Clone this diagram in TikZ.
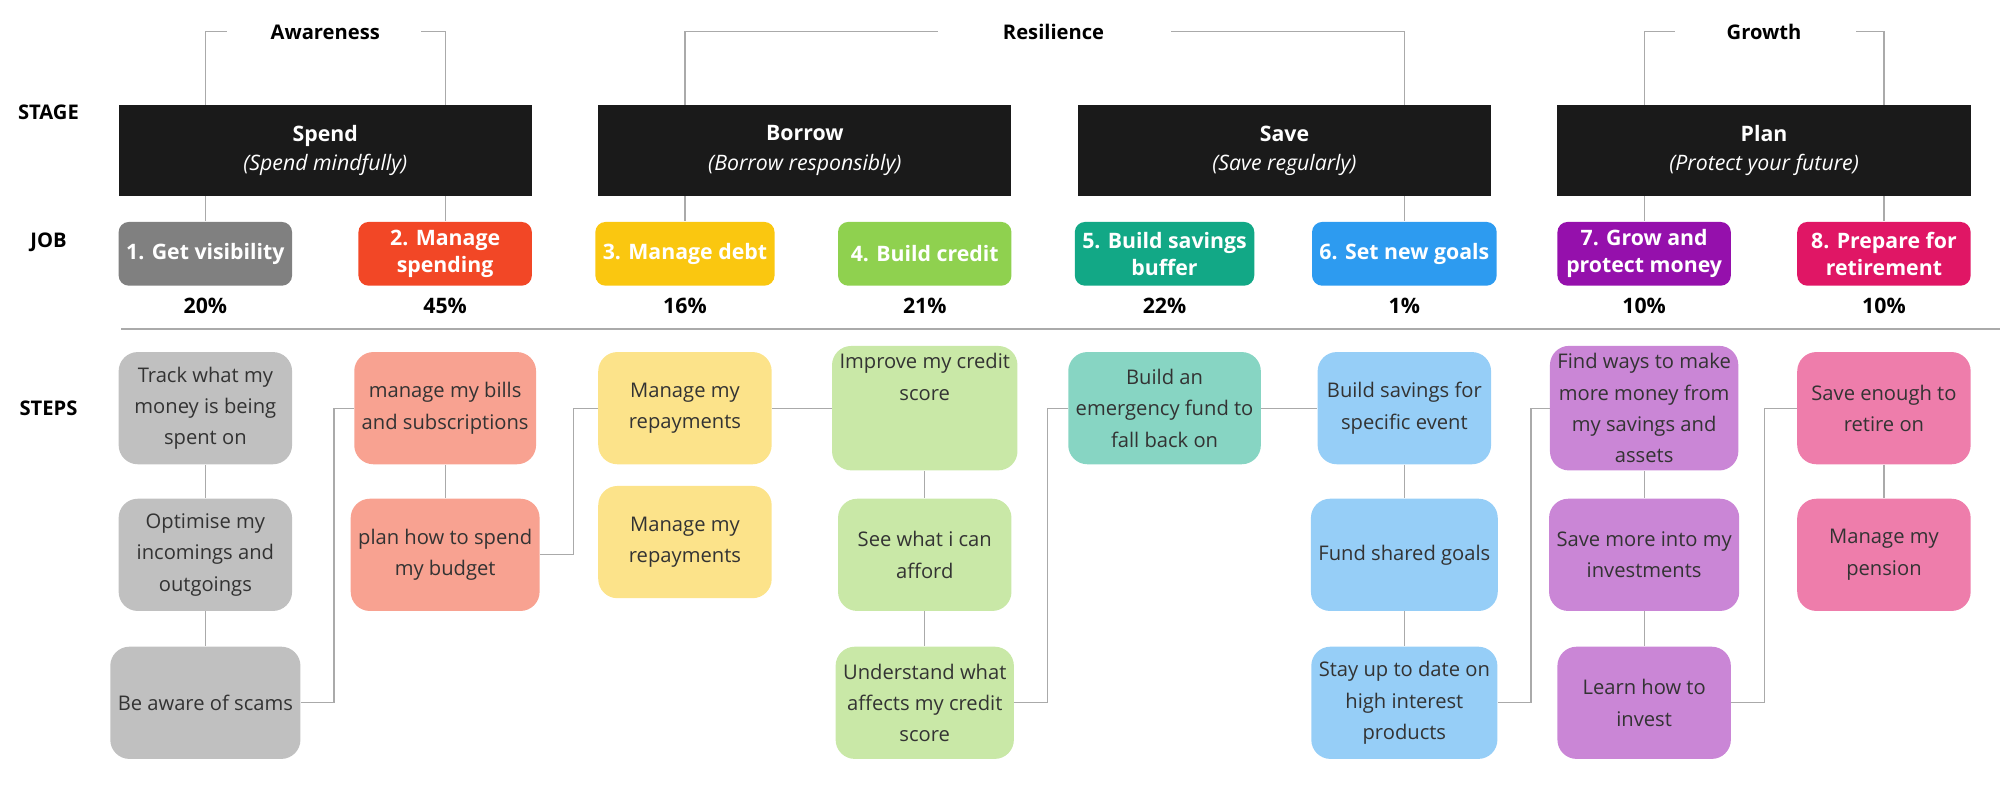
\documentclass[tikz,border=0pt]{standalone}
\usepackage{fontspec}
\setmainfont{Open Sans}
\usetikzlibrary{positioning}

\definecolor{stagebg}{HTML}{1A1A1A}
\definecolor{linegray}{HTML}{AAAAAA}
\definecolor{jgray}{HTML}{808080}\definecolor{sgray}{HTML}{C0C0C0}
\definecolor{jred}{HTML}{F24726}\definecolor{sred}{HTML}{F8A291}
\definecolor{jyel}{HTML}{FAC710}\definecolor{syel}{HTML}{FCE38A}
\definecolor{jgrn}{HTML}{8FD14F}\definecolor{sgrn}{HTML}{C9E8A7}
\definecolor{jteal}{HTML}{12A886}\definecolor{steal}{HTML}{87D5C3}
\definecolor{jblue}{HTML}{2D9BF0}\definecolor{sblue}{HTML}{96CEF7}
\definecolor{jpur}{HTML}{9510AC}\definecolor{spur}{HTML}{CA86D6}
\definecolor{jpink}{HTML}{E01665}\definecolor{spink}{HTML}{EE7DAB}

\tikzset{
  stage/.style={fill=stagebg, text=white, minimum width=6.48cm, minimum height=1.42cm, align=center, font=\fontsize{9.5}{13}\selectfont},
  job/.style={fill=#1, rounded corners=0.16cm, text=white, minimum width=2.72cm, minimum height=1cm, align=center, font=\bfseries\fontsize{9.5}{12}\selectfont},
  step/.style={fill=#1, rounded corners=0.3cm, minimum width=2.72cm, minimum height=1.76cm, align=center, text=black!80, font=\fontsize{9}{14}\selectfont},
  rowlbl/.style={font=\bfseries\fontsize{9}{11}\selectfont},
  pct/.style={font=\bfseries\fontsize{9.5}{11}\selectfont},
  conn/.style={draw=linegray, line width=0.5pt}
}

\begin{document}
\begin{tikzpicture}[x=0.02cm, y=-0.02cm]
\useasboundingbox (0,0) rectangle (1568,618);

% Row labels
\node[rowlbl] (lstage) at (38,88) {STAGE};
\node[rowlbl] (ljob) at (38,190) {JOB};
\node[rowlbl] (lsteps) at (38,320) {STEPS};

% Stages
\node[stage] (sp) at (255,118) {\textbf{Spend}\\\textit{(Spend mindfully)}};
\node[stage] (bo) at (631,118) {\textbf{Borrow}\\\textit{(Borrow responsibly)}};
\node[stage] (sa) at (1007,118) {\textbf{Save}\\\textit{(Save regularly)}};
\node[stage] (pl) at (1383,118) {\textbf{Plan}\\\textit{(Protect your future)}};

% Groups
\node[rowlbl] (gaw) at (255,25) {Awareness};
\node[rowlbl] (gre) at (826,25) {Resilience};
\node[rowlbl] (ggr) at (1383,25) {Growth};
\coordinate (aw1) at (178,25); \coordinate (aw2) at (330,25);
\coordinate (re1) at (735,25); \coordinate (re2) at (918,25);
\coordinate (gr1) at (1313,25); \coordinate (gr2) at (1455,25);

% Jobs
\node[job=jgray] (j1) at (161,199) {1. Get visibility};
\node[job=jred] (j2) at (349,199) {2. Manage\\spending};
\node[job=jyel] (j3) at (537,199) {3. Manage debt};
\node[job=jgrn] (j4) at (725,199) {4. Build credit};
\node[job=jteal] (j5) at (913,199) {5. Build savings\\buffer};
\node[job=jblue] (j6) at (1101,199) {6. Set new goals};
\node[job=jpur] (j7) at (1289,199) {7. Grow and\\protect money};
\node[job=jpink] (j8) at (1477,199) {8. Prepare for\\retirement};

% Percentages
\node[pct] (p1) at (161,240) {20\%};
\node[pct] (p2) at (349,240) {45\%};
\node[pct] (p3) at (537,240) {16\%};
\node[pct] (p4) at (725,240) {21\%};
\node[pct] (p5) at (913,240) {22\%};
\node[pct] (p6) at (1101,240) {1\%};
\node[pct] (p7) at (1289,240) {10\%};
\node[pct] (p8) at (1477,240) {10\%};

% Separator
\coordinate (sepl) at (95,258); \coordinate (sepr) at (1568,258);
\draw[conn, line width=0.8pt] (sepl) -- (sepr);

% Brackets and stage-job lines
\draw[conn] (j1 |- sp.north) |- (aw1);
\draw[conn] (j2 |- sp.north) |- (aw2);
\draw[conn] (j3 |- bo.north) |- (re1);
\draw[conn] (j6 |- sa.north) |- (re2);
\draw[conn] (j7 |- pl.north) |- (gr1);
\draw[conn] (j8 |- pl.north) |- (gr2);
\draw[conn] (j1 |- sp.south) -- (j1);
\draw[conn] (j2 |- sp.south) -- (j2);
\draw[conn] (j3 |- bo.south) -- (j3);
\draw[conn] (j6 |- sa.south) -- (j6);
\draw[conn] (j7 |- pl.south) -- (j7);
\draw[conn] (j8 |- pl.south) -- (j8);

% Steps
\node[step=sgray] (s11) at (161,320) {Track what my\\money is being\\spent on};
\node[step=sgray] (s12) at (161,435) {Optimise my\\incomings and\\outgoings};
\node[step=sgray] (s13) at (161,551) {Be aware of scams};
\node[step=sred] (s21) at (349,320) {manage my bills\\and subscriptions};
\node[step=sred] (s22) at (349,435) {plan how to spend\\my budget};
\node[step=syel] (s31) at (537,320) {Manage my\\repayments};
\node[step=syel] (s32) at (537,425) {Manage my\\repayments};
\node[step=sgrn] (s41) at (725,320) {Improve my credit\\score\\[14pt]};
\node[step=sgrn] (s42) at (725,435) {See what i can\\afford};
\node[step=sgrn] (s43) at (725,551) {Understand what\\affects my credit\\score};
\node[step=steal] (s51) at (913,320) {Build an\\emergency fund to\\fall back on};
\node[step=sblue] (s61) at (1101,320) {Build savings for\\specific event};
\node[step=sblue] (s62) at (1101,435) {Fund shared goals};
\node[step=sblue] (s63) at (1101,551) {Stay up to date on\\high interest\\products};
\node[step=spur] (s71) at (1289,320) {Find ways to make\\more money from\\my savings and\\assets};
\node[step=spur] (s72) at (1289,435) {Save more into my\\investments};
\node[step=spur] (s73) at (1289,551) {Learn how to\\invest};
\node[step=spink] (s81) at (1477,320) {Save enough to\\retire on};
\node[step=spink] (s82) at (1477,435) {Manage my\\pension};

% Vertical links
\draw[conn] (s11) -- (s12); \draw[conn] (s12) -- (s13);
\draw[conn] (s21) -- (s22);
\draw[conn] (s41) -- (s42); \draw[conn] (s42) -- (s43);
\draw[conn] (s61) -- (s62); \draw[conn] (s62) -- (s63);
\draw[conn] (s71) -- (s72); \draw[conn] (s72) -- (s73);
\draw[conn] (s81) -- (s82);

% Elbow links between columns
\draw[conn] (s13.east) -| ++(26,0) |- (s21.west);
\draw[conn] (s22.east) -| ++(26,0) |- (s31.west);
\draw[conn] (s31) -- (s41);
\draw[conn] (s43.east) -| ++(26,0) |- (s51.west);
\draw[conn] (s51) -- (s61);
\draw[conn] (s63.east) -| ++(26,0) |- (s71.west);
\draw[conn] (s73.east) -| ++(26,0) |- (s81.west);

\end{tikzpicture}
\end{document}
